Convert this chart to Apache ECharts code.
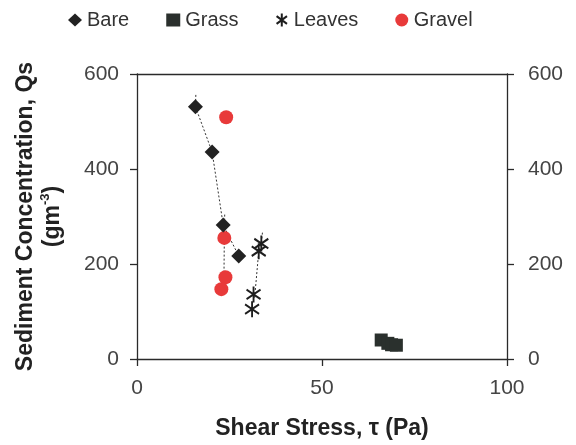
<!DOCTYPE html>
<html>
<head>
<meta charset="utf-8">
<script src="https://cdn.jsdelivr.net/npm/echarts@6/dist/echarts.min.js"></script>
<style>
html,body{margin:0;padding:0;background:#fff;}
#chart{width:576px;height:445px;}
</style>
</head>
<body>
<div id="chart"></div>
<script>
// ---- data ----
const bareX = [15.8, 20.3, 23.3, 27.5];
const bareY = [531, 436, 282, 217];
const grassX = [66.0, 67.8, 68.8, 70.1];
const grassY = [40, 33, 30, 29];
const leavesX = [33.6, 32.9, 31.5, 31.1];
const leavesY = [243, 227, 136, 105];
const gravelX = [24.1, 23.6, 23.9, 22.8];
const gravelY = [509, 255, 172, 147];
// dotted trend lines
const bareTrendX = [15.9, 15.8, 20.3, 23.3, 27.5];
const bareTrendY = [556, 531, 436, 282, 217];
const gravelTrendX = [23.7, 23.6, 23.5, 23.0];
const gravelTrendY = [304, 255, 172, 136];
const leavesTrendX = [33.9, 33.6, 32.9, 31.8];
const leavesTrendY = [266, 243, 227, 129];
const xTicks = [0, 50, 100];
const yTicks = [0, 200, 400, 600];

const zip = (xs, ys) => xs.map((x, i) => [x, ys[i]]);
const FONT = '"Liberation Sans", Arial, sans-serif';
const AX = '#2a2a2a';
const starPath = 'path://M10,0L10,20M2,4L18,16M2,16L18,4';

const chart = echarts.init(document.getElementById('chart'), null, {renderer: 'canvas'});
const axisCommon = {
  axisLine: {show: true, onZero: false, lineStyle: {color: AX, width: 1.3}},
  axisTick: {show: true, inside: false, length: 7, lineStyle: {color: AX, width: 1.3}},
  splitLine: {show: false},
  axisLabel: {color: '#444', fontSize: 21, fontFamily: FONT}
};
const trendStyle = {color: '#333', width: 1, type: [2, 2]};

chart.setOption({
  animation: false,
  backgroundColor: '#fff',
  grid: {left: 137, right: 69, top: 74, bottom: 85, containLabel: false},
  legend: {
    left: 63, top: 5,
    itemWidth: 14, itemHeight: 13, itemGap: 37,
    textStyle: {fontSize: 20, color: '#333', fontFamily: FONT},
    data: ['Bare', 'Grass', 'Leaves', 'Gravel']
  },
  xAxis: [
    Object.assign({}, axisCommon, {
      type: 'value', min: xTicks[0], max: xTicks[xTicks.length - 1], interval: 50,
      position: 'bottom',
      axisLabel: Object.assign({}, axisCommon.axisLabel, {margin: 19}),
      name: 'Shear Stress, τ (Pa)', nameLocation: 'middle', nameGap: 58,
      nameTextStyle: {fontSize: 23, fontWeight: 'bold', color: '#222', fontFamily: FONT}
    }),
    {
      type: 'value', min: 0, max: 100, position: 'top',
      axisLine: {show: true, onZero: false, lineStyle: {color: AX, width: 1.3}},
      axisTick: {show: false}, axisLabel: {show: false}, splitLine: {show: false}
    }
  ],
  yAxis: [
    Object.assign({}, axisCommon, {
      type: 'value', min: yTicks[0], max: yTicks[yTicks.length - 1], interval: 200,
      position: 'left',
      axisLabel: Object.assign({}, axisCommon.axisLabel, {margin: 18}),
      name: 'Sediment Concentration, Qs\n{b|(gm}{sup|-3}{b|)}',
      nameLocation: 'middle', nameRotate: 90, nameGap: 71,
      nameTextStyle: {
        fontSize: 23, fontWeight: 'bold', color: '#222', fontFamily: FONT, lineHeight: 27,
        rich: {
          b: {fontSize: 23, fontWeight: 'bold', color: '#222', fontFamily: FONT, lineHeight: 27},
          sup: {fontSize: 13, fontWeight: 'bold', color: '#222', fontFamily: FONT, verticalAlign: 'top', lineHeight: 27, padding: [0, 0, 10, 0]}
        }
      }
    }),
    Object.assign({}, axisCommon, {
      type: 'value', min: yTicks[0], max: yTicks[yTicks.length - 1], interval: 200,
      position: 'right',
      axisLabel: Object.assign({}, axisCommon.axisLabel, {margin: 21})
    })
  ],
  series: [
    {name: 'BareTrend', type: 'line', data: zip(bareTrendX, bareTrendY), showSymbol: false, symbol: 'none', lineStyle: trendStyle, z: 1, silent: true},
    {name: 'GravelTrend', type: 'line', data: zip(gravelTrendX, gravelTrendY), showSymbol: false, symbol: 'none', lineStyle: trendStyle, z: 1, silent: true},
    {name: 'LeavesTrend', type: 'line', data: zip(leavesTrendX, leavesTrendY), showSymbol: false, symbol: 'none', lineStyle: trendStyle, z: 1, silent: true},
    {name: 'Bare', type: 'scatter', data: zip(bareX, bareY), symbol: 'diamond', symbolSize: 15, itemStyle: {color: '#222', opacity: 1}, z: 3},
    {name: 'Grass', type: 'scatter', data: zip(grassX, grassY), symbol: 'rect', symbolSize: 13, itemStyle: {color: '#2a302d', opacity: 1}, z: 3},
    {name: 'Leaves', type: 'scatter', data: zip(leavesX, leavesY), symbol: starPath, symbolSize: [14, 16],
      itemStyle: {color: 'rgba(0,0,0,0)', borderColor: '#1e1e1e', borderWidth: 2, opacity: 1}, z: 3},
    {name: 'Gravel', type: 'scatter', data: zip(gravelX, gravelY), symbol: 'circle', symbolSize: 14, itemStyle: {color: '#e83a3a', opacity: 1}, z: 2}
  ]
});
</script>
</body>
</html>
